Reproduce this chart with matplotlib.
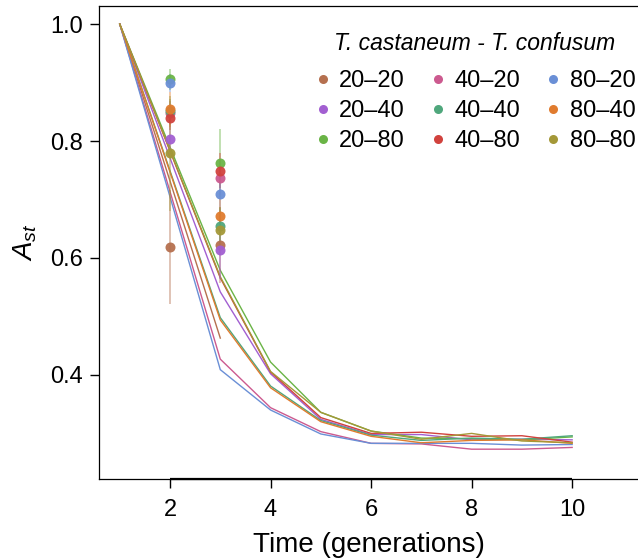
import matplotlib
matplotlib.use("Agg")
import matplotlib.pyplot as plt
from matplotlib.lines import Line2D

plt.rcParams['font.family'] = ['Liberation Sans', 'DejaVu Sans']
plt.rcParams['mathtext.fontset'] = 'custom'
plt.rcParams['mathtext.it'] = 'Liberation Sans:italic'
plt.rcParams['mathtext.rm'] = 'Liberation Sans'

# Treatments (T. castaneum - T. confusum densities)
labels = ['20\u201320', '20\u201340', '20\u201380',
          '40\u201320', '40\u201340', '40\u201380',
          '80\u201320', '80\u201340', '80\u201380']
colors = ['#b5704f', '#a25fd1', '#6ab446',
          '#cc5a8f', '#4fa77c', '#d1423d',
          '#6a8fd6', '#e07b2e', '#a49838']

# Observed points (generations 2 and 3) and their error half-widths
obs_x = [2, 3]
obs_gen2 = [0.619, 0.803, 0.906, 0.848, 0.852, 0.839, 0.899, 0.854, 0.779]
obs_gen3 = [0.622, 0.614, 0.762, 0.737, 0.655, 0.749, 0.709, 0.672, 0.648]
err_gen2 = [0.098, 0.030, 0.018, 0.020, 0.020, 0.020, 0.015, 0.030, 0.098]
err_gen3 = [0.065, 0.050, 0.058, 0.030, 0.030, 0.030, 0.030, 0.030, 0.040]

# Predicted trajectories
pred_x = [1, 3, 4, 5, 6, 7, 8, 9, 10]
pred_x_short = [1, 3]
pred_20_20 = [1.0, 0.463]
pred_20_40 = [1.0, 0.542, 0.402, 0.324, 0.298, 0.298, 0.289, 0.290, 0.289]
pred_20_80 = [1.0, 0.579, 0.422, 0.336, 0.304, 0.292, 0.291, 0.289, 0.294]
pred_40_20 = [1.0, 0.427, 0.344, 0.303, 0.283, 0.282, 0.273, 0.273, 0.276]
pred_40_40 = [1.0, 0.498, 0.381, 0.322, 0.297, 0.288, 0.292, 0.290, 0.296]
pred_40_80 = [1.0, 0.566, 0.405, 0.327, 0.300, 0.302, 0.295, 0.296, 0.285]
pred_80_20 = [1.0, 0.409, 0.340, 0.299, 0.283, 0.283, 0.283, 0.280, 0.281]
pred_80_40 = [1.0, 0.494, 0.378, 0.320, 0.295, 0.284, 0.288, 0.289, 0.283]
pred_80_80 = [1.0, 0.568, 0.406, 0.336, 0.304, 0.290, 0.300, 0.287, 0.284]

preds = [pred_20_20, pred_20_40, pred_20_80, pred_40_20, pred_40_40,
         pred_40_80, pred_80_20, pred_80_40, pred_80_80]

fig = plt.figure(figsize=(6.38, 5.59), dpi=100)
ax = fig.add_axes([99 / 638, 1 - 479 / 559, 539 / 638, 473 / 559])

# Lines first
for i, yv in enumerate(preds):
    xv = pred_x_short if len(yv) == 2 else pred_x
    ax.plot(xv, yv, color=colors[i], lw=1.0, zorder=2)

# Error bars then points
for i in range(len(labels)):
    ys = [obs_gen2[i], obs_gen3[i]]
    es = [err_gen2[i], err_gen3[i]]
    ax.errorbar(obs_x, ys, yerr=es, fmt='none', ecolor=colors[i],
                elinewidth=1.3, alpha=0.45, zorder=3)
for i in range(len(labels)):
    ys = [obs_gen2[i], obs_gen3[i]]
    ax.plot(obs_x, ys, 'o', color=colors[i], ms=7.2, alpha=0.95,
            markeredgewidth=0, zorder=4)

ax.set_xlim(0.587, 11.31)
ax.set_ylim(0.222, 1.031)
ax.set_xticks([2, 4, 6, 8, 10])
ax.set_yticks([0.4, 0.6, 0.8, 1.0])
ax.set_yticklabels(['0.4', '0.6', '0.8', '1.0'])
ax.tick_params(direction='out', length=6.5, width=1.0, labelsize=17)
ax.tick_params(axis='x', pad=8)
ax.tick_params(axis='y', pad=5)
ax.spines['right'].set_visible(False)
for s in ['left', 'bottom', 'top']:
    ax.spines[s].set_linewidth(0.9)
# R-style axis line between the first and last tick
ax.plot([2, 10], [0.222, 0.222], color='black', lw=1.6, clip_on=False,
        solid_capstyle='butt', zorder=5)

ax.set_xlabel('Time (generations)', fontsize=20, labelpad=8)
ax.set_ylabel(r'$A_{st}$', fontsize=20, labelpad=8)

# Legend title drawn as its own text, entries below it
fig.text(475 / 638, 1 - 44 / 559, 'T. castaneum - T. confusum',
         fontsize=16.5, fontstyle='italic', ha='center', va='center')
handles = [Line2D([], [], marker='o', ls='none', color=c, ms=6.5, markeredgewidth=0)
           for c in colors]
leg = ax.legend(handles, labels, ncol=3, loc='upper right',
                bbox_to_anchor=(1.035, 0.910), frameon=False, fontsize=17,
                handletextpad=0.1, columnspacing=0.8, labelspacing=0.34,
                handlelength=1.2)

fig.savefig('out.png', dpi=100)
